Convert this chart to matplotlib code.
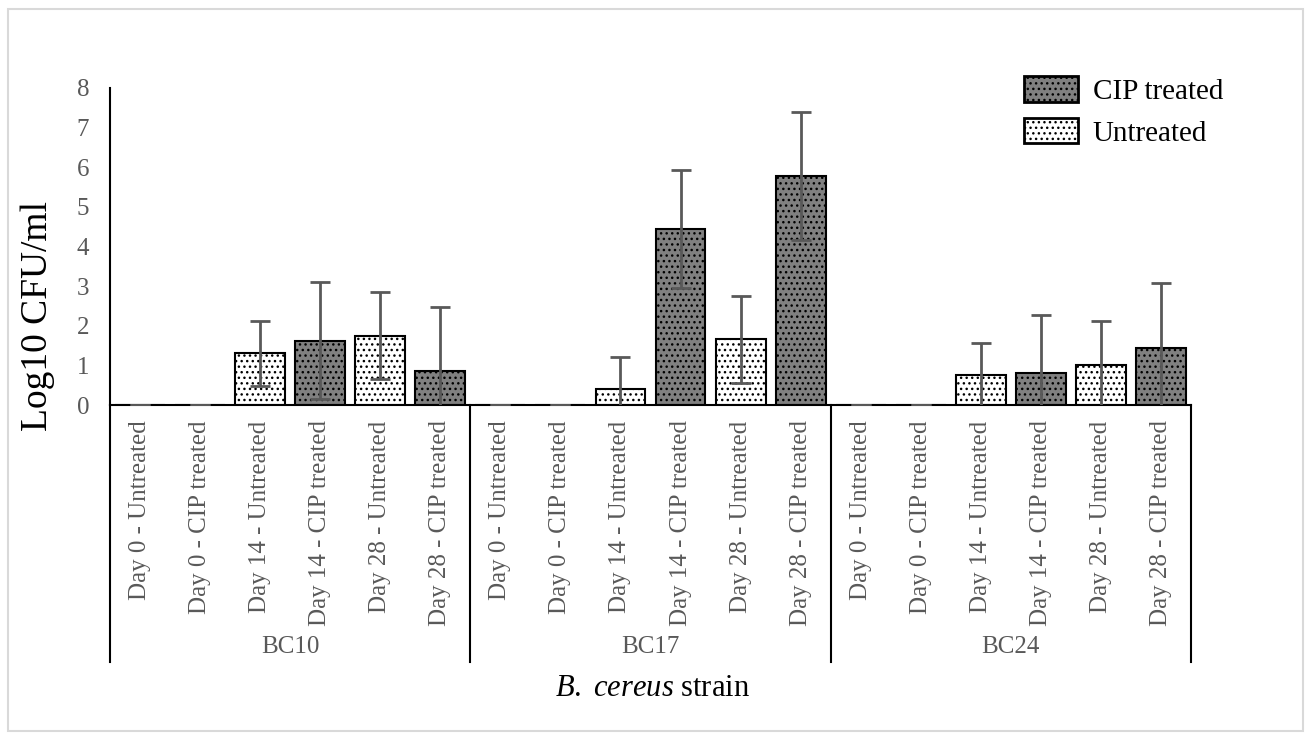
import numpy as np
import matplotlib
matplotlib.use('Agg')
import matplotlib.pyplot as plt
from matplotlib.patches import Patch, Rectangle
import matplotlib.transforms as mtransforms

plt.rcParams['font.family'] = ['Liberation Serif', 'DejaVu Serif']
plt.rcParams['mathtext.fontset'] = 'custom'
plt.rcParams['mathtext.it'] = 'Liberation Serif:italic'
plt.rcParams['mathtext.rm'] = 'Liberation Serif'
plt.rcParams['hatch.linewidth'] = 1.0

# data
strains = ['BC10', 'BC17', 'BC24']
conditions = ['Day 0 - Untreated', 'Day 0 - CIP treated', 'Day 14 - Untreated',
              'Day 14 - CIP treated', 'Day 28 - Untreated', 'Day 28 - CIP treated']
treated = [False, True, False, True, False, True]

bc10_mean = [0, 0, 1.30, 1.62, 1.75, 0.85]
bc10_err = [0, 0, 0.82, 1.48, 1.10, 1.62]
bc17_mean = [0, 0, 0.40, 4.44, 1.66, 5.78]
bc17_err = [0, 0, 0.80, 1.48, 1.10, 1.62]
bc24_mean = [0, 0, 0.76, 0.80, 1.02, 1.45]
bc24_err = [0, 0, 0.80, 1.47, 1.10, 1.62]

means = bc10_mean + bc17_mean + bc24_mean
errs = bc10_err + bc17_err + bc24_err
labels = conditions * 3
is_cip = treated * 3

W, H = 1306, 736
fig = plt.figure(figsize=(W / 100, H / 100), dpi=100)
ax = fig.add_axes([110 / W, (H - 405) / H, (1191 - 110) / W, (405 - 88) / H])

x = np.arange(len(means)) + 0.5
dark = '#808080'
fills = [dark if c else 'white' for c in is_cip]
ax.bar(x, means, width=0.83, color=fills, edgecolor='black', linewidth=1.5,
       hatch='...', zorder=2)
ax.errorbar(x, means, yerr=errs, fmt='none', ecolor='#595959', elinewidth=2,
            capsize=7, capthick=2, zorder=3)

ax.set_xlim(0, 18)
ax.set_ylim(0, 8)
ax.set_yticks(range(0, 9))
ax.tick_params(axis='y', length=0, pad=15, labelsize=18, labelcolor='#595959')
ax.set_xticks(x)
ax.set_xticklabels(labels, rotation=90, fontsize=18, color='#595959')
ax.tick_params(axis='x', length=0, pad=11)
for s in ['top', 'right']:
    ax.spines[s].set_visible(False)
ax.spines['left'].set_linewidth(1.5)
ax.spines['bottom'].set_linewidth(1.5)

# group separators and strain names under the axis
trans = mtransforms.blended_transform_factory(ax.transData, ax.transAxes)
ybot = -(662 - 405) / (405 - 88)
for gx in [0, 6, 12, 18]:
    ax.plot([gx, gx], [0, ybot], transform=trans, color='black', lw=1.5,
            clip_on=False)
for i, s in enumerate(strains):
    ax.text(i * 6 + 3, -(647 - 405) / (405 - 88), s, transform=trans,
            ha='center', va='center', fontsize=18, color='#595959')

fig.text(38 / W, 1 - 316 / H, 'Log10 CFU/ml', rotation=90, ha='center',
         va='center', fontsize=27)
fig.text(652 / W, 1 - 688 / H, r'$\it{B.}$ $\it{cereus}$ strain', ha='center',
         va='center', fontsize=22)

handles = [Patch(facecolor=dark, edgecolor='black', linewidth=2, hatch='...',
                 label='CIP treated'),
           Patch(facecolor='white', edgecolor='black', linewidth=2, hatch='...',
                 label='Untreated')]
ax.legend(handles=handles, loc='upper left', bbox_to_anchor=(1024 / W, 1 - 76 / H),
          bbox_transform=fig.transFigure, frameon=False, fontsize=21,
          handlelength=1.85, handleheight=0.97, labelspacing=0.45,
          handletextpad=0.5, borderpad=0, borderaxespad=0)

fig.patches.append(Rectangle((8 / W, 1 - 731 / H), 1295 / W, 722 / H,
                             transform=fig.transFigure, fill=False,
                             edgecolor='#d9d9d9', linewidth=1.5))

fig.savefig('out.png', dpi=100)
